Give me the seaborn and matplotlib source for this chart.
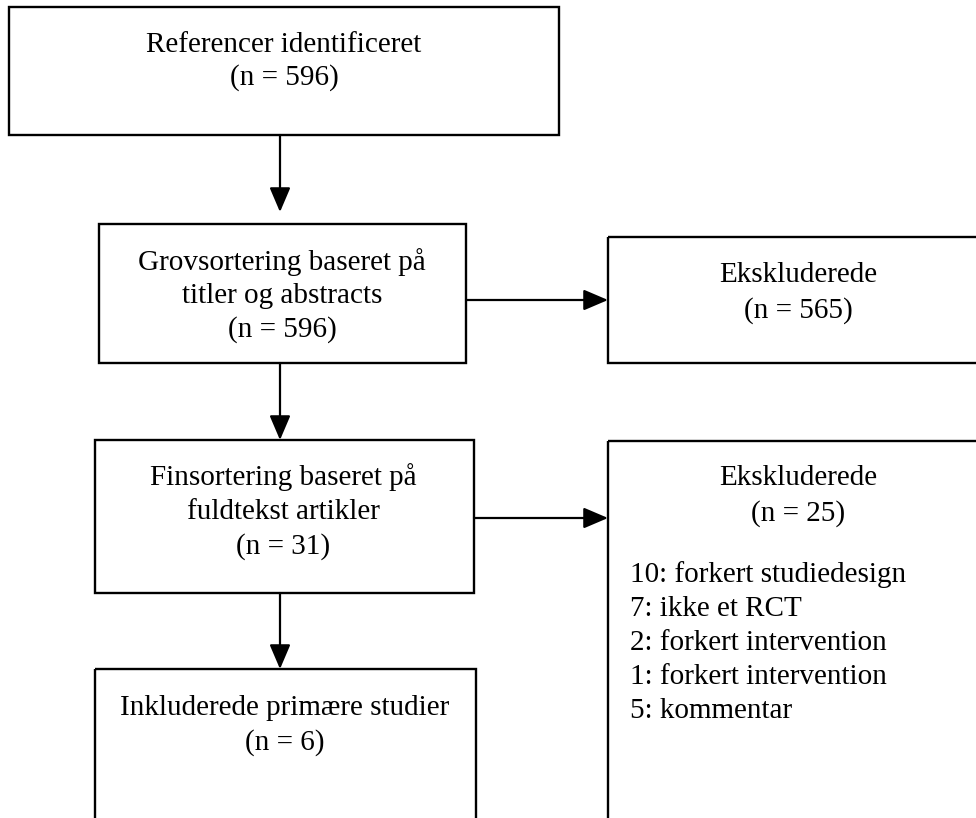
import matplotlib
matplotlib.use("Agg")
import matplotlib.pyplot as plt
import matplotlib.patches as mpatches
import seaborn as sns

# data
stage_labels = ["Referencer identificeret",
                "Grovsortering baseret på\ntitler og abstracts",
                "Finsortering baseret på\nfuldtekst artikler",
                "Inkluderede primære studier"]
stage_n = [596, 596, 31, 6]
excluded_label = "Ekskluderede"
excluded_n = [565, 25]
reason_counts = [10, 7, 2, 1, 5]
reason_labels = ["forkert studiedesign", "ikke et RCT", "forkert intervention",
                 "forkert intervention", "kommentar"]

sns.set_theme(style="white")
plt.rcParams["font.family"] = ["Liberation Serif", "DejaVu Serif"]
fs = 21

fig = plt.figure(figsize=(9.76, 8.18), dpi=100)
ax = fig.add_axes([0, 0, 1, 1])
ax.set_xlim(0, 976)
ax.set_ylim(818, 0)
ax.axis("off")

# boxes (pixel layout): x0, y0, x1, y1
stage_boxes = [(9, 7, 559, 135), (99, 224, 466, 363), (95, 440, 474, 593), (95, 669, 476, 860)]
excl_boxes = [(608, 237, 1000, 363), (608, 441, 1000, 860)]

for (x0, y0, x1, y1) in stage_boxes + excl_boxes:
    ax.add_patch(mpatches.Rectangle((x0, y0), x1 - x0, y1 - y0, fill=False,
                                    edgecolor="black", lw=1.7, clip_on=True))

# stage texts
text_y = [(45, 78), (262, 330), (477, 547), (708, 743)]
text_x = [284, 282, 283, 285]
for lab, n, (ya, yb), x in zip(stage_labels, stage_n, text_y, text_x):
    lines = lab.split("\n") + [f"(n = {n})"]
    step = (yb - ya) / (len(lines) - 1)
    for k, line in enumerate(lines):
        ax.text(x, ya + k * step, line, ha="center", va="center", fontsize=fs, color="black")

# excluded texts
for n, ya in zip(excluded_n, [275, 478]):
    ax.text(798, ya, excluded_label, ha="center", va="center", fontsize=fs, color="black")
    ax.text(798, ya + 36, f"(n = {n})", ha="center", va="center", fontsize=fs, color="black")

for k, (c, r) in enumerate(zip(reason_counts, reason_labels)):
    ax.text(630, 575 + k * 34, f"{c}: {r}", ha="left", va="center", fontsize=fs, color="black")

# arrows
arrows = [((280, 135), (280, 212)), ((280, 363), (280, 440)), ((280, 593), (280, 669)),
          ((466, 300), (608, 300)), ((474, 518), (608, 518))]
for start, end in arrows:
    ax.annotate("", xy=end, xytext=start,
                arrowprops=dict(arrowstyle="-|>,head_length=0.75,head_width=0.32",
                                color="black", lw=1.6, shrinkA=0, shrinkB=0,
                                mutation_scale=20))

fig.savefig("out.png", dpi=100)
